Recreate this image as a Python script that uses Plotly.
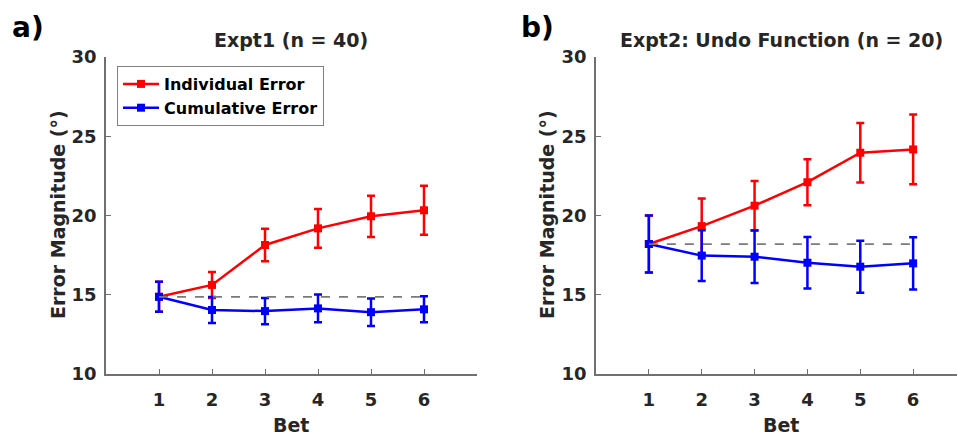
import plotly.graph_objects as go

bets = [1, 2, 3, 4, 5, 6]

# Expt1 (n = 40)
e1_ind = [14.87, 15.62, 18.14, 19.19, 19.95, 20.33]
e1_ind_err = [0.95, 0.82, 1.02, 1.22, 1.30, 1.55]
e1_cum = [14.87, 14.04, 13.97, 14.14, 13.90, 14.08]
e1_cum_err = [0.95, 0.82, 0.83, 0.87, 0.87, 0.82]
e1_base = 14.87

# Expt2: Undo Function (n = 20)
e2_ind = [18.2, 19.33, 20.62, 22.10, 23.96, 24.17]
e2_ind_err = [1.80, 1.75, 1.55, 1.45, 1.88, 2.20]
e2_cum = [18.2, 17.47, 17.40, 17.02, 16.77, 16.98]
e2_cum_err = [1.80, 1.60, 1.66, 1.62, 1.64, 1.65]
e2_base = 18.2

titles = ["Expt1 (n = 40)", "Expt2: Undo Function (n = 20)"]
panel_labels = ["a)", "b)"]
y_ticks = [10, 15, 20, 25, 30]

RED = "#ff0000"
BLUE = "#0000ff"
FONT = "DejaVu Sans, sans-serif"
TXT = "#262626"
AX = "#707070"

W, H = 957, 439

def px_x(p):
    return p / W

def px_y(p):
    return 1 - p / H

fig = go.Figure()

datasets = [
    (e1_ind, e1_ind_err, e1_cum, e1_cum_err, e1_base, "x", "y"),
    (e2_ind, e2_ind_err, e2_cum, e2_cum_err, e2_base, "x2", "y2"),
]

for i, (ind, ind_err, cum, cum_err, base, xa, ya) in enumerate(datasets):
    fig.add_trace(go.Scatter(
        x=bets, y=ind, mode="lines+markers", name="Individual Error",
        line=dict(color=RED, width=2.5),
        marker=dict(color=RED, size=8, symbol="square"),
        error_y=dict(type="data", array=ind_err, color=RED, thickness=2.5, width=4),
        xaxis=xa, yaxis=ya, showlegend=(i == 0),
    ))
    fig.add_trace(go.Scatter(
        x=bets, y=cum, mode="lines+markers", name="Cumulative Error",
        line=dict(color=BLUE, width=2.5),
        marker=dict(color=BLUE, size=8, symbol="square"),
        error_y=dict(type="data", array=cum_err, color=BLUE, thickness=2.5, width=4),
        xaxis=xa, yaxis=ya, showlegend=(i == 0),
    ))
    fig.add_trace(go.Scatter(
        x=[bets[0], bets[-1]], y=[base, base], mode="lines",
        line=dict(color="#7a7a7a", width=1.7, dash="dash"),
        xaxis=xa, yaxis=ya, showlegend=False, hoverinfo="skip",
    ))

tickfont = dict(family=FONT, size=18, color=TXT, weight="bold")
common_x = dict(
    tickvals=bets, ticks="inside", ticklen=5, tickcolor=AX, tickwidth=1.2,
    showline=True, linecolor=AX, linewidth=1.5, showgrid=False, zeroline=False,
    tickfont=tickfont, ticklabelstandoff=9, automargin=False,
)
common_y = dict(
    range=[10, 30], tickvals=y_ticks, ticks="inside", ticklen=5, tickcolor=AX,
    tickwidth=1.2, showline=True, linecolor=AX, linewidth=1.5, showgrid=False,
    zeroline=False, tickfont=tickfont, ticklabelstandoff=4, automargin=False,
)

ydom = [px_y(374), px_y(57)]

fig.update_layout(
    width=W, height=H,
    margin=dict(l=0, r=0, t=0, b=0, pad=0, autoexpand=False),
    paper_bgcolor="white", plot_bgcolor="white",
    xaxis=dict(domain=[px_x(106), px_x(477)], range=[0, 7], anchor="y", **common_x),
    yaxis=dict(domain=ydom, anchor="x", **common_y),
    xaxis2=dict(domain=[px_x(596), 1.0], range=[0, 6.83], anchor="y2", **common_x),
    yaxis2=dict(domain=ydom, anchor="x2", **common_y),
    legend=dict(
        x=px_x(117), y=px_y(66), xanchor="left", yanchor="top",
        bordercolor="#808080", borderwidth=1, bgcolor="white",
        font=dict(family=FONT, size=16, color="#000000", weight="bold"),
        tracegroupgap=0, itemwidth=36,
    ),
    showlegend=True,
)

annots = []
title_cx = [291, 781]
ylab_cx = [58, 547]
panel_cx = [28, 537]
for i in range(2):
    annots.append(dict(
        text=titles[i], x=px_x(title_cx[i]), y=px_y(40), xref="paper", yref="paper",
        showarrow=False, xanchor="center", yanchor="middle",
        font=dict(family=FONT, size=19, color=TXT, weight="bold"),
    ))
    annots.append(dict(
        text=panel_labels[i], x=px_x(panel_cx[i]), y=px_y(27), xref="paper", yref="paper",
        showarrow=False, xanchor="center", yanchor="middle",
        font=dict(family=FONT, size=28, color="#000000", weight="bold"),
    ))
    annots.append(dict(
        text="Error Magnitude (°)", x=px_x(ylab_cx[i]), y=px_y(215), xref="paper",
        yref="paper", showarrow=False, xanchor="center", yanchor="middle",
        textangle=-90, font=dict(family=FONT, size=19, color=TXT, weight="bold"),
    ))
    annots.append(dict(
        text="Bet", x=px_x(title_cx[i]), y=px_y(425), xref="paper", yref="paper",
        showarrow=False, xanchor="center", yanchor="middle",
        font=dict(family=FONT, size=19, color=TXT, weight="bold"),
    ))
fig.update_layout(annotations=annots)

fig.write_html(
    "out.html",
    config={"displayModeBar": False},
    post_script="document.body.style.margin='0';document.body.style.overflow='hidden';",
)
